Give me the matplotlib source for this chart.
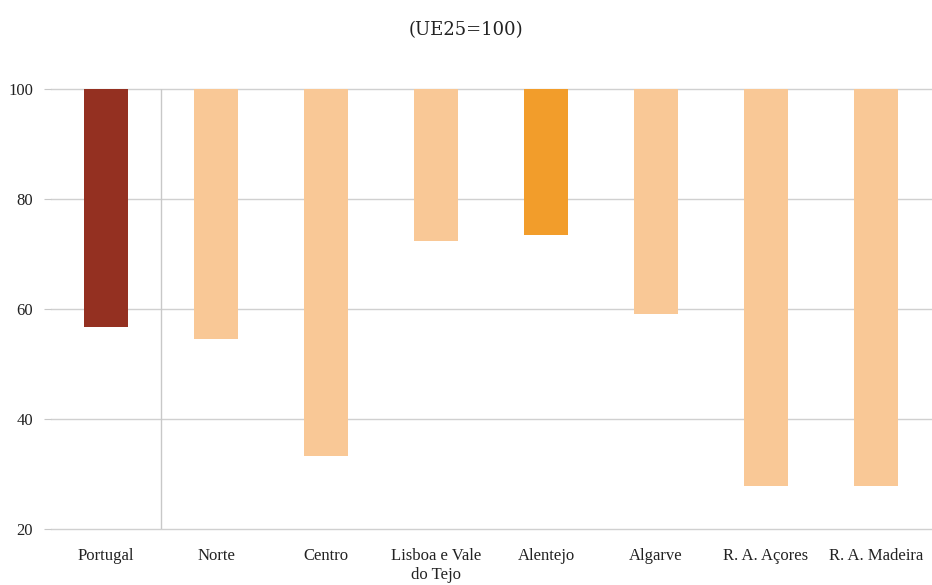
import numpy as np
import matplotlib.pyplot as plt

categorias = ['Portugal', 'Norte', 'Centro', 'Lisboa e Vale\ndo Tejo', 'Alentejo',
              'Algarve', 'R. A. Açores', 'R. A. Madeira']
valores = [56.8, 54.5, 33.3, 72.4, 73.5, 59.1, 27.9, 27.9]
cores = ['#943021', '#F9C896', '#F9C896', '#F9C896', '#F29D2B',
         '#F9C896', '#F9C896', '#F9C896']
yticks = [20, 40, 60, 80, 100]

plt.rcParams['font.family'] = ['Liberation Serif', 'DejaVu Serif']

fig = plt.figure(figsize=(9.32, 5.85), dpi=100)
ax = fig.add_axes([51/932, 1-529/585, 880/932, 440/585])

x = np.arange(len(categorias))
base = 100
for yt in yticks:
    ax.axhline(yt, color='#d0d0d0', lw=1, zorder=0, clip_on=False)
ax.axvline(0.5, color='#c8c8c8', lw=1, zorder=0)
ax.bar(x, [base - v for v in valores], bottom=valores, width=0.4, color=cores, zorder=2)

ax.set_xlim(-0.5, len(categorias) - 0.5)
ax.set_ylim(20, 100)
ax.set_yticks(yticks)
ax.set_xticks(x)
ax.set_xticklabels(categorias, fontsize=12, color='#222222')
ax.tick_params(axis='y', labelsize=12, labelcolor='#222222', length=5, color='#c8c8c8', pad=8)
ax.tick_params(axis='x', length=0, pad=14)
for s in ax.spines.values():
    s.set_visible(False)

fig.text(0.5, 1-30/585, '(UE25=100)', ha='center', va='center', fontsize=13,
         family=['DejaVu Serif'], color='#222222')

fig.savefig('out.png', dpi=100)
